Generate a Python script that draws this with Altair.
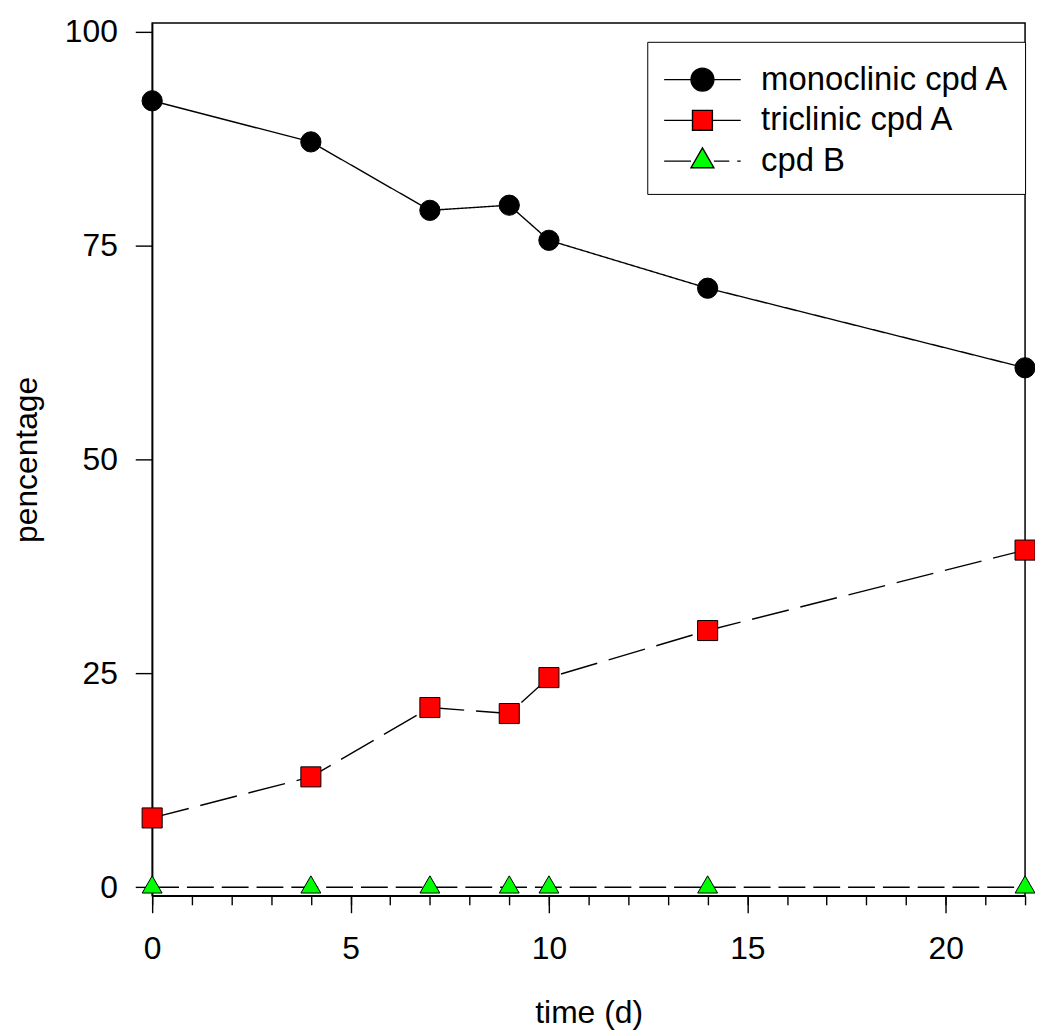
import altair as alt
import pandas as pd

# ---- data ----
time_d = [0, 4, 7, 9, 10, 14, 22]
monoclinic = [91.9, 87.1, 79.1, 79.7, 75.6, 70.0, 60.7]
triclinic = [8.1, 12.9, 21.0, 20.3, 24.5, 30.0, 39.4]
cpd_b = [0, 0, 0, 0, 0, 0, 0]
series_names = ["monoclinic cpd A", "triclinic cpd A", "cpd B"]
x_major = [0, 5, 10, 15, 20]
x_minor = list(range(0, 23))
y_major = [0, 25, 50, 75, 100]

rows = []
for name, vals in zip(series_names, [monoclinic, triclinic, cpd_b]):
    for t, v in zip(time_d, vals):
        rows.append({"time": t, "value": v, "series": name})
df = pd.DataFrame(rows)

FONT = "Liberation Sans"
FS = 32
LFS = 33

x_scale = alt.Scale(domain=[0, 22], nice=False, zero=False)
y_scale = alt.Scale(domain=[-1, 101], nice=False, zero=False)

y_enc = alt.Y(
    "value:Q", scale=y_scale,
    axis=alt.Axis(values=y_major, title="pencentage", tickSize=17, labelPadding=18,
                  titlePadding=21, grid=False, orient="left"),
)

dash_scale = alt.Scale(domain=series_names, range=[[1, 0], [38, 12], [27, 8]])

lines = alt.Chart(df).mark_line(color="black", strokeWidth=1.4).encode(
    x=alt.X("time:Q", scale=x_scale,
            axis=alt.Axis(values=x_major, title="time (d)", tickSize=17, labelPadding=21,
                          titlePadding=33, grid=False, orient="bottom", labelFlush=False)),
    y=y_enc,
    strokeDash=alt.StrokeDash("series:N", scale=dash_scale, legend=None),
    detail="series:N",
)

# plot markers
tri_path = "M0,-1.15L1,0.58L-1,0.58Z"
points = alt.Chart(df).mark_point(filled=True, stroke="black", strokeWidth=1, opacity=1).encode(
    x=alt.X("time:Q", scale=x_scale,
            axis=alt.Axis(values=x_minor, title=None, tickSize=9, labels=False, domain=False,
                          grid=False, orient="bottom")),
    y=y_enc,
    shape=alt.Shape("series:N", scale=alt.Scale(domain=series_names,
                                                range=["circle", "square", tri_path]), legend=None),
    fill=alt.Fill("series:N", scale=alt.Scale(domain=series_names,
                                              range=["black", "#ff0000", "#00ff00"]), legend=None),
    size=alt.Size("series:N", scale=alt.Scale(domain=series_names, range=[415, 400, 529]),
                  legend=None),
)

# legend-only layer (no visible marks): symbols with line segments drawn through the markers
# unit = 21 px (symbolSize 42^2); the line spans 77 px
leg_circle = ("M-1.833,0H-0.548M0.548,0H1.833"
              "M-0.548,0A0.548,0.548,0,1,0,0.548,0A0.548,0.548,0,1,0,-0.548,0Z")
leg_square = "M-1.833,0H-0.476M0.476,0H1.833M-0.476,-0.476H0.476V0.476H-0.476Z"
leg_tri = ("M-1.833,0H-0.548M0.548,0H1.286M1.667,0H1.833"
           "M0,-0.633L0.548,0.319L-0.548,0.319Z")

leg_props = dict(title=None, orient="none", legendX=498, legendY=19,
                 padding=16, strokeColor="black", fillColor="white",
                 symbolSize=1764, symbolOffset=17.5, labelOffset=37,
                 rowPadding=2, symbolStrokeWidth=1.4, labelLimit=0,
                 symbolStrokeColor="black", symbolOpacity=1)

legend_layer = alt.Chart(df).transform_filter("datum.value < -500").mark_point(
    filled=True, stroke="black", strokeWidth=1.4, opacity=1
).encode(
    x=alt.X("time:Q", scale=x_scale, axis=None),
    y=y_enc,
    shape=alt.Shape("series:N", scale=alt.Scale(domain=series_names,
                                                range=[leg_circle, leg_square, leg_tri]),
                    legend=alt.Legend(**leg_props)),
    fill=alt.Fill("series:N", scale=alt.Scale(domain=series_names,
                                              range=["black", "#ff0000", "#00ff00"]),
                  legend=alt.Legend(**leg_props)),
    stroke=alt.Stroke("series:N", scale=alt.Scale(domain=series_names,
                                                  range=["black", "black", "black"]),
                      legend=alt.Legend(**leg_props)),
)

chart = alt.layer(lines, points, legend_layer).resolve_scale(
    shape="independent", fill="independent", size="independent", stroke="independent"
).resolve_axis(x="independent").properties(
    width=878, height=878,
    autosize=alt.AutoSizeParams(type="none"),
    padding={"left": 145, "top": 12, "right": 10, "bottom": 140},
).configure_view(
    stroke="black", strokeWidth=1.5
).configure_axis(
    labelFont=FONT, titleFont=FONT, labelFontSize=FS, titleFontSize=FS,
    titleFontWeight="normal", labelColor="black", titleColor="black",
    tickColor="black", tickWidth=1.4, domainColor="black", domainWidth=1.5,
).configure_legend(
    labelFont=FONT, labelFontSize=LFS, labelColor="black",
)

chart.save("out.html", embed_options={"renderer": "svg", "actions": False})
